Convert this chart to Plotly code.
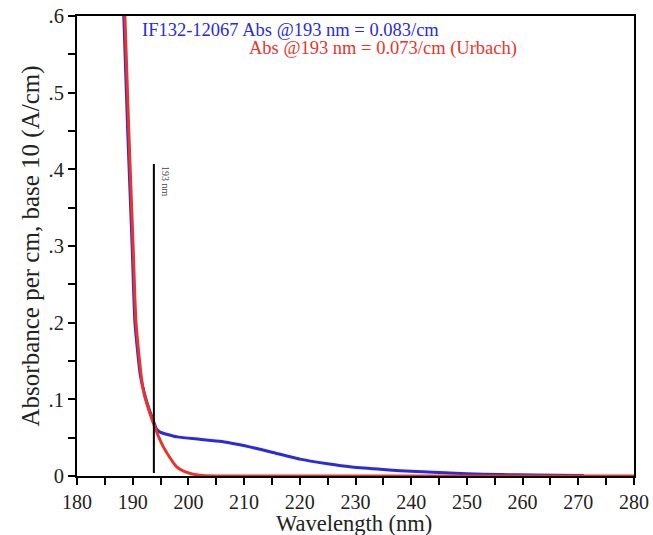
import plotly.graph_objects as go

# Measured spectrum (blue)
meas_wl = [188.4, 189.1, 189.9, 190.4, 191.4, 192.4, 193.3, 193.8, 194.3, 195.0, 198.0, 202.0,
           206.0, 209.0, 211.0, 215.0, 220.0, 225.0, 229.0, 234.0, 238.0, 244.0, 250.0, 256.0,
           262.0, 271.0]
meas_abs = [0.60, 0.45, 0.30, 0.20, 0.13, 0.10, 0.08, 0.070, 0.061, 0.057, 0.051, 0.048,
            0.045, 0.041, 0.038, 0.031, 0.022, 0.016, 0.012, 0.009, 0.007, 0.005, 0.003, 0.0018,
            0.0012, 0.0008]

# Urbach fit (red)
urb_wl = [188.6, 189.3, 190.1, 190.6, 191.9, 193.7, 195.5, 197.9, 200.0, 202.0, 205.0, 280.0]
urb_abs = [0.60, 0.45, 0.295, 0.20, 0.112, 0.069, 0.038, 0.012, 0.004, 0.001, 0.0, 0.0]

# 193 nm marker line
marker_wl = [193.8, 193.8]
marker_abs = [0.004, 0.407]
marker_label = "193 nm"

x_ticks = [180, 190, 200, 210, 220, 230, 240, 250, 260, 270, 280]
y_ticks = [0, 0.1, 0.2, 0.3, 0.4, 0.5, 0.6]
y_tick_text = ["0", ".1", ".2", ".3", ".4", ".5", ".6"]

x_title = "Wavelength (nm)"
y_title = "Absorbance per cm, base 10 (A/cm)"
blue_text = "IF132-12067 Abs @193 nm = 0.083/cm"
red_text = "Abs @193 nm = 0.073/cm (Urbach)"

FONT = "Liberation Serif"
BLUE = "#2b2bd9"
RED = "#e8342c"

fig = go.Figure()
fig.add_trace(go.Scatter(x=meas_wl, y=meas_abs, mode="lines",
                         line=dict(color=BLUE, width=3, shape="spline", smoothing=0.5)))
fig.add_trace(go.Scatter(x=urb_wl, y=urb_abs, mode="lines",
                         line=dict(color=RED, width=3, shape="spline", smoothing=0.6)))
fig.add_trace(go.Scatter(x=marker_wl, y=marker_abs, mode="lines",
                         line=dict(color="black", width=2)))

fig.add_annotation(x=marker_wl[1], y=marker_abs[1], text=marker_label, textangle=90,
                   showarrow=False, xanchor="left", yanchor="top", xshift=4,
                   font=dict(family=FONT, size=10, color="#444"))
fig.add_annotation(x=191.3, y=0.582, text=blue_text, showarrow=False,
                   xanchor="left", yanchor="middle",
                   font=dict(family=FONT, size=18.5, color=BLUE))
fig.add_annotation(x=210.5, y=0.558, text=red_text, showarrow=False,
                   xanchor="left", yanchor="middle",
                   font=dict(family=FONT, size=18.5, color=RED))
# x-axis title placed near the bottom edge, as in the reference
fig.add_annotation(xref="paper", yref="paper", x=0.497, y=-0.1348, text=x_title,
                   showarrow=False, xanchor="center", yanchor="bottom",
                   font=dict(family=FONT, size=22.5, color="#222"))

axis_common = dict(showgrid=False, zeroline=False, showline=True, linecolor="black",
                   linewidth=2, mirror=True, ticks="outside", ticklen=7, tickwidth=2,
                   tickcolor="black", automargin=False)

fig.update_xaxes(range=[180, 280], tickvals=x_ticks,
                 tickfont=dict(family=FONT, size=20, color="#222"),
                 minor=dict(dtick=5, ticks="outside", ticklen=7, tickwidth=2, tickcolor="black"),
                 **axis_common)
fig.update_yaxes(range=[0, 0.6], tickvals=y_ticks, ticktext=y_tick_text,
                 tickfont=dict(family=FONT, size=20.5, color="#222"),
                 minor=dict(dtick=0.05, ticks="outside", ticklen=7, tickwidth=2, tickcolor="black"),
                 title=dict(text=y_title, font=dict(family=FONT, size=25, color="#222"), standoff=2),
                 **axis_common)

fig.update_layout(width=653, height=535, showlegend=False,
                  margin=dict(l=77, r=19, t=16, b=59),
                  plot_bgcolor="white", paper_bgcolor="white")

fig.write_html("out.html")
